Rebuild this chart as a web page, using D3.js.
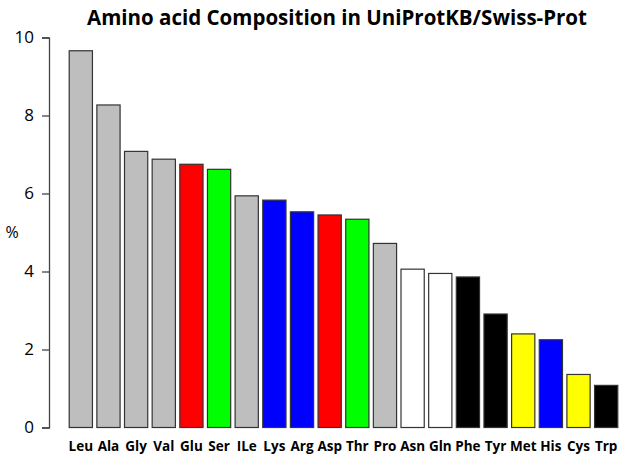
<!DOCTYPE html>
<html>
<head>
<meta charset="utf-8">
<script src="https://cdn.jsdelivr.net/npm/d3@7"></script>
<style>
  body { margin: 0; background: #fff; }
  text { font-family: "Open Sans", "DejaVu Sans", sans-serif; }
</style>
</head>
<body>
<div id="chart"></div>
<script>
// amino acids, sorted by frequency
var aminoAcids = ["Leu", "Ala", "Gly", "Val", "Glu", "Ser", "ILe", "Lys", "Arg", "Asp",
                  "Thr", "Pro", "Asn", "Gln", "Phe", "Tyr", "Met", "His", "Cys", "Trp"];
var percents = [9.66, 8.27, 7.08, 6.88, 6.75, 6.62, 5.94, 5.83, 5.53, 5.45,
                5.34, 4.72, 4.06, 3.95, 3.86, 2.91, 2.40, 2.25, 1.36, 1.08];
var barColors = ["#bebebe", "#bebebe", "#bebebe", "#bebebe", "#ff0000", "#00ff00", "#bebebe",
                 "#0000ff", "#0000ff", "#ff0000", "#00ff00", "#bebebe", "#ffffff", "#ffffff",
                 "#000000", "#000000", "#ffff00", "#0000ff", "#ffff00", "#000000"];
var yTicks = [0, 2, 4, 6, 8, 10];

var svgWidth = 626;
var svgHeight = 462;

var svg = d3.select("#chart")
  .append("svg")
  .attr("width", svgWidth)
  .attr("height", svgHeight);

var data = aminoAcids.map(function(a, i) {
  return { name: a, value: percents[i], color: barColors[i] };
});

var x = d3.scaleBand()
  .domain(aminoAcids)
  .range([67, 620])
  .paddingInner(0.16)
  .paddingOuter(0.08);

var y = d3.scaleLinear()
  .domain([0, 10])
  .range([427.5, 37.5]);

// y axis
var yAxis = svg.append("g")
  .attr("transform", "translate(49,0)")
  .call(d3.axisLeft(y).tickValues(yTicks).tickSize(7).tickPadding(8));
yAxis.selectAll("path, line").attr("stroke", "#444").attr("stroke-width", 1.3);
yAxis.selectAll("text")
  .attr("font-size", 17)
  .attr("fill", "#000")
  .attr("font-family", "Open Sans, sans-serif");

svg.append("text")
  .attr("x", 12)
  .attr("y", 238)
  .attr("text-anchor", "middle")
  .attr("font-size", 16)
  .text("%");

// bars
svg.selectAll(".bar")
  .data(data)
  .enter()
  .append("rect")
  .attr("class", "bar")
  .attr("x", function(d) { return x(d.name); })
  .attr("width", x.bandwidth())
  .attr("y", function(d) { return y(d.value); })
  .attr("height", function(d) { return y(0) - y(d.value); })
  .attr("fill", function(d) { return d.color; })
  .attr("stroke", "#333")
  .attr("stroke-width", 1.2);

// category labels
svg.selectAll(".lbl")
  .data(data)
  .enter()
  .append("text")
  .attr("class", "lbl")
  .attr("x", function(d) { return x(d.name) + x.bandwidth() / 2; })
  .attr("y", 451)
  .attr("text-anchor", "middle")
  .attr("font-size", 13.5)
  .attr("font-weight", "bold")
  .text(function(d) { return d.name; });

// title
svg.append("text")
  .attr("x", 337)
  .attr("y", 25)
  .attr("text-anchor", "middle")
  .attr("font-size", 20.5)
  .attr("font-weight", "bold")
  .text("Amino acid Composition in UniProtKB/Swiss-Prot");
</script>
</body>
</html>
